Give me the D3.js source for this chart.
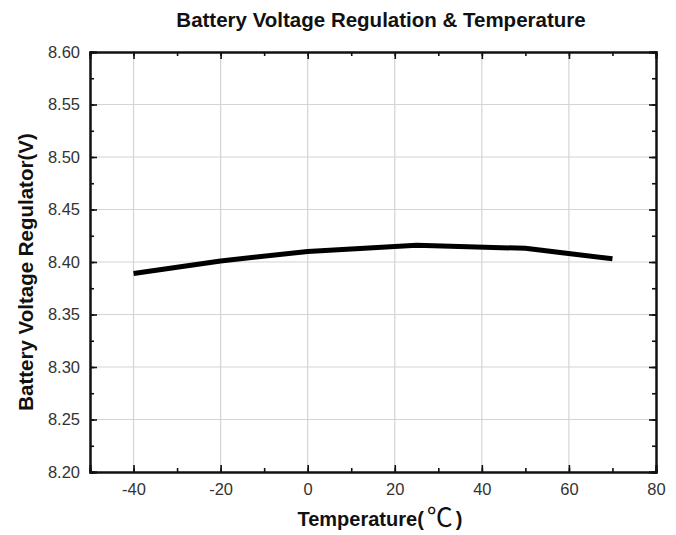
<!DOCTYPE html>
<html><head><meta charset="utf-8">
<script src="https://cdn.jsdelivr.net/npm/d3@7"></script>
<style>body{margin:0;background:#fff;} svg{display:block;}</style>
</head><body>
<script>
const temps = [-40, -20, 0, 25, 50, 70];
const volts = [8.389, 8.401, 8.410, 8.416, 8.413, 8.403];
const xTicks = [-40, -20, 0, 20, 40, 60, 80];
const yTicks = [8.20, 8.25, 8.30, 8.35, 8.40, 8.45, 8.50, 8.55, 8.60];
const title = "Battery Voltage Regulation & Temperature";
const xLabel = "Temperature(";
const yLabel = "Battery Voltage Regulator(V)";

const W = 676, H = 535;
const m = {left: 90, right: 20, top: 52, bottom: 63};
const svg = d3.select("body").append("svg").attr("width", W).attr("height", H);
const x = d3.scaleLinear().domain([-50, 80]).range([m.left, W - m.right]);
const y = d3.scaleLinear().domain([8.20, 8.60]).range([H - m.bottom, m.top]);
const fontF = "Arial, 'Liberation Sans', sans-serif";

// grid
svg.append("g").selectAll("line").data(xTicks.filter(d => d > -50 && d < 80)).join("line")
  .attr("x1", d => x(d)).attr("x2", d => x(d)).attr("y1", y(8.20)).attr("y2", y(8.60))
  .attr("stroke", "#d4d4d4").attr("stroke-width", 1.2);
svg.append("g").selectAll("line").data(yTicks.filter(d => d > 8.2 && d < 8.6)).join("line")
  .attr("x1", x(-50)).attr("x2", x(80)).attr("y1", d => y(d)).attr("y2", d => y(d))
  .attr("stroke", "#d4d4d4").attr("stroke-width", 1.2);

// axes
const xMinor = d3.range(-50, 81, 10);
const yMinor = d3.range(0, 17).map(i => 8.20 + i * 0.025);
const axB = d3.axisBottom(x).tickValues(xTicks).tickSize(-7).tickPadding(11).tickFormat(d => String(d));
const axL = d3.axisLeft(y).tickValues(yTicks).tickSize(-7).tickPadding(10).tickFormat(d => d.toFixed(2));
const axT = d3.axisTop(x).tickValues(xTicks).tickSize(-7).tickFormat("");
const axR = d3.axisRight(y).tickValues(yTicks).tickSize(-7).tickFormat("");
const minorB = d3.axisBottom(x).tickValues(xMinor).tickSize(-4).tickFormat("");
const minorT = d3.axisTop(x).tickValues(xMinor).tickSize(-4).tickFormat("");
const minorL = d3.axisLeft(y).tickValues(yMinor).tickSize(-4).tickFormat("");
const minorR = d3.axisRight(y).tickValues(yMinor).tickSize(-4).tickFormat("");

function style(g) {
  g.select(".domain").attr("stroke", "#111").attr("stroke-width", 2);
  g.selectAll(".tick line").attr("stroke", "#111").attr("stroke-width", 1.6);
  g.selectAll(".tick text").attr("font-family", fontF).attr("font-size", 16.5).attr("fill", "#333");
}
svg.append("g").attr("transform", `translate(0,${y(8.20)})`).call(minorB).call(style);
svg.append("g").attr("transform", `translate(0,${y(8.60)})`).call(minorT).call(style);
svg.append("g").attr("transform", `translate(${x(-50)},0)`).call(minorL).call(style);
svg.append("g").attr("transform", `translate(${x(80)},0)`).call(minorR).call(style);
svg.append("g").attr("transform", `translate(0,${y(8.20)})`).call(axB).call(style);
svg.append("g").attr("transform", `translate(0,${y(8.60)})`).call(axT).call(style);
svg.append("g").attr("transform", `translate(${x(-50)},0)`).call(axL).call(style);
svg.append("g").attr("transform", `translate(${x(80)},0)`).call(axR).call(style);

// line
svg.append("path").datum(temps.map((t, i) => [t, volts[i]]))
  .attr("fill", "none").attr("stroke", "#000").attr("stroke-width", 5)
  .attr("stroke-linejoin", "round")
  .attr("d", d3.line().x(d => x(d[0])).y(d => y(d[1])));

// title
svg.append("text").attr("x", 381).attr("y", 27).attr("text-anchor", "middle")
  .attr("font-family", fontF).attr("font-weight", "bold").attr("font-size", 20.5).attr("fill", "#111")
  .text(title);

// x label
const xl = svg.append("text").attr("x", 380).attr("y", 526).attr("text-anchor", "middle")
  .attr("font-family", fontF).attr("font-weight", "bold").attr("font-size", 20).attr("fill", "#111");
xl.append("tspan").text(xLabel);
xl.append("tspan").attr("font-family", "'Noto Sans CJK SC', sans-serif").attr("font-weight", "normal").attr("font-size", 26).attr("dy", 1).attr("dx", 3).text("℃");
xl.append("tspan").attr("dy", -1).attr("dx", 3).text(")");

// y label
svg.append("text").attr("transform", `translate(33,272) rotate(-90)`).attr("text-anchor", "middle")
  .attr("font-family", fontF).attr("font-weight", "bold").attr("font-size", 20.5).attr("fill", "#111")
  .text(yLabel);
</script>
</body></html>
